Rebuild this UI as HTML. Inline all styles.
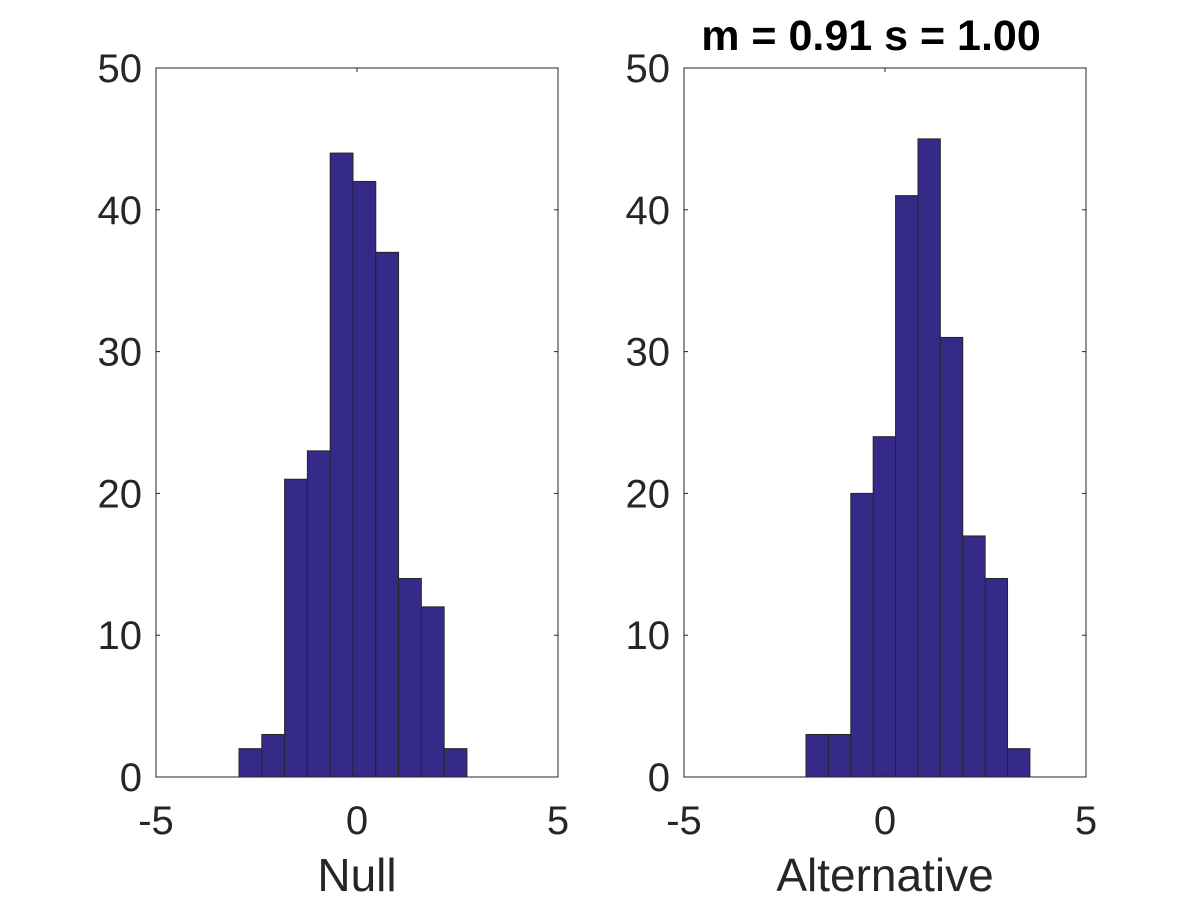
<!DOCTYPE html>
<html><head><meta charset="utf-8"><style>
html,body{margin:0;padding:0;background:#fff;}
svg text{font-family:"Liberation Sans",Arial,sans-serif;fill:#262626;}
</style></head><body>
<svg id="chart" width="1200" height="900" viewBox="0 0 1200 900" xmlns="http://www.w3.org/2000/svg">
<rect x="0" y="0" width="1200" height="900" fill="#fff"/>
<text x="871" y="50" font-size="43" font-weight="bold" text-anchor="middle" style="fill:#000">m = 0.91 s = 1.00</text>
</svg>
<script>
const nullCounts=[2,3,21,23,44,42,37,14,12,2];
const nullStart=-2.935, nullWidth=0.567;
const altCounts=[3,3,20,24,41,45,31,17,14,2];
const altStart=-1.965, altWidth=0.557;
const yTicks=[0,10,20,30,40,50];
const xTicks=[-5,0,5];
const svg=document.getElementById('chart');
const NS='http://www.w3.org/2000/svg';
function mk(tag,attrs,parent){const e=document.createElementNS(NS,tag);for(const k in attrs)e.setAttribute(k,attrs[k]);(parent||svg).appendChild(e);return e;}
function panel(name,left,counts,start,width,xlabel){
  const right=left+402, top=68, bottom=777;
  const xs=v=>left+(v+5)/10*(right-left);
  const ys=v=>bottom-v/50*(bottom-top);
  const g=mk('g',{});
  
  
  counts.forEach((c,i)=>{
    const x0=xs(start+i*width), x1=xs(start+(i+1)*width);
    const r=mk('rect',{x:x0,y:ys(c),width:x1-x0,height:ys(0)-ys(c),fill:'#352a87',stroke:'#262626','stroke-width':1},g);
    
    
  });
  const box=mk('rect',{x:left,y:top,width:right-left,height:bottom-top,fill:'none',stroke:'#262626','stroke-width':1},g);
  
  
  yTicks.forEach(t=>{
    const y=ys(t);
    mk('line',{x1:left,x2:left+4,y1:y,y2:y,stroke:'#262626'},g);
    mk('line',{x1:right,x2:right-4,y1:y,y2:y,stroke:'#262626'},g);
    const tx=mk('text',{x:left-14,y:y+14,'font-size':40,'text-anchor':'end'},g);
    tx.textContent=t;
    
    
  });
  xTicks.forEach(t=>{
    const x=xs(t);
    mk('line',{x1:x,x2:x,y1:bottom,y2:bottom-4,stroke:'#262626'},g);
    mk('line',{x1:x,x2:x,y1:top,y2:top+4,stroke:'#262626'},g);
    const tx=mk('text',{x:x,y:834,'font-size':40,'text-anchor':'middle'},g);
    tx.textContent=t;
    
    
  });
  const xl=mk('text',{x:(left+right)/2,y:891,'font-size':46,'text-anchor':'middle'},g);
  xl.textContent=xlabel;
  
  
}
panel('null',156,nullCounts,nullStart,nullWidth,'Null');
panel('alternative',684,altCounts,altStart,altWidth,'Alternative');
</script>
</body></html>
